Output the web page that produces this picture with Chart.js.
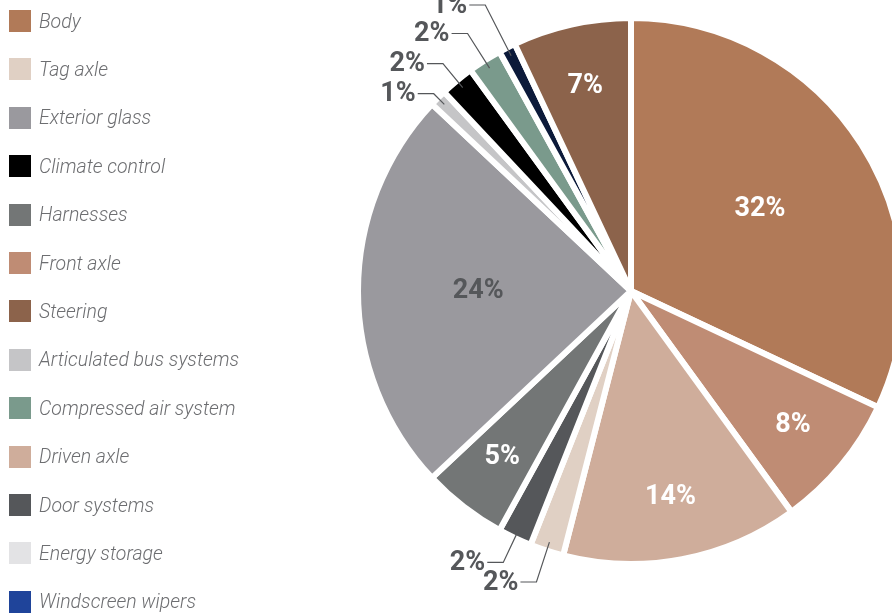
<!DOCTYPE html>
<html>
<head>
<meta charset="utf-8">
<script src="https://cdn.jsdelivr.net/npm/chart.js@4.4.1/dist/chart.umd.min.js"></script>
<style>
  html, body { margin: 0; padding: 0; background: #fff; overflow: hidden; }
  #wrap { position: relative; width: 892px; height: 614px; }
  #wrap canvas { position: absolute; left: 0; top: 0; }
  #legend {
    position: absolute; left: 0; top: 0; margin: 0; padding: 0; list-style: none;
    font: italic 300 19.5px Roboto, sans-serif; color: #6d6e71;
  }
  #legend li { position: absolute; left: 9px; height: 22px; display: flex; align-items: center; white-space: nowrap; }
  #legend .swatch { width: 22px; height: 22px; margin-right: 8px; flex: none; }
</style>
</head>
<body>
<div id="wrap">
  <canvas id="chart"></canvas>
  <ul id="legend"></ul>
</div>
<script>
// slices in drawing order, clockwise from 12 o'clock
const parts = ['Body', 'Front axle', 'Driven axle', 'Tag axle', 'Energy storage', 'Door systems',
  'Harnesses', 'Exterior glass', 'Articulated bus systems', 'Climate control',
  'Compressed air system', 'Windscreen wipers', 'Steering'];
const shares = [32, 8, 14, 2, 0, 2, 5, 24, 1, 2, 2, 1, 7];
const sliceColors = ['#b17a58', '#bf8c74', '#cfad9b', '#e0d0c4', '#e3e3e5', '#55575a',
  '#737676', '#9a999e', '#c5c5c7', '#000000', '#7a9a8c', '#0c1a3a', '#8c634b'];

// legend runs in its own order
const legendOrder = ['Body', 'Tag axle', 'Exterior glass', 'Climate control', 'Harnesses',
  'Front axle', 'Steering', 'Articulated bus systems', 'Compressed air system',
  'Driven axle', 'Door systems', 'Energy storage', 'Windscreen wipers'];
const legendSwatch = { 'Windscreen wipers': '#1f449a' };

// percentage labels: big slices inside, small ones outside on leader lines
const sliceLabels = {
  id: 'sliceLabels',
  afterDatasetsDraw(chart, args, opts) {
    const ctx = chart.ctx;
    const meta = chart.getDatasetMeta(0);
    const values = chart.data.datasets[0].data;
    ctx.save();
    ctx.font = opts.font;
    ctx.textBaseline = 'middle';
    meta.data.forEach((arc, i) => {
      const v = values[i];
      if (!v) return;
      const { x, y, startAngle, endAngle, outerRadius } =
        arc.getProps(['x', 'y', 'startAngle', 'endAngle', 'outerRadius'], true);
      const mid = (startAngle + endAngle) / 2;
      const cos = Math.cos(mid), sin = Math.sin(mid);
      const name = chart.data.labels[i];
      const text = v + '%';
      if (v >= opts.insideMin) {
        const r = outerRadius * (v >= 20 ? 0.56 : 0.77);
        ctx.fillStyle = opts.dark.includes(name) ? opts.darkColor : '#fff';
        ctx.textAlign = 'center';
        ctx.fillText(text, x + cos * r, y + sin * r);
      } else {
        const r0 = outerRadius - 9;
        const r1 = outerRadius + (opts.elbows[name] || 20);
        const ex = x + cos * r1, ey = y + sin * r1;
        ctx.strokeStyle = opts.darkColor;
        ctx.lineWidth = 1.2;
        ctx.beginPath();
        ctx.moveTo(x + cos * r0, y + sin * r0);
        ctx.lineTo(ex, ey);
        ctx.lineTo(ex - 16, ey);
        ctx.stroke();
        ctx.fillStyle = opts.darkColor;
        ctx.textAlign = 'right';
        ctx.fillText(text, ex - 18, ey + 1);
      }
    });
    ctx.restore();
  }
};

const chart = new Chart(document.getElementById('chart'), {
  type: 'pie',
  data: {
    labels: parts,
    datasets: [{
      data: shares,
      backgroundColor: sliceColors,
      borderColor: '#ffffff',
      borderWidth: 6,
      hoverOffset: 0,
      clip: false
    }]
  },
  options: {
    responsive: true,
    maintainAspectRatio: false,
    animation: false,
    radius: 273,
    layout: { padding: { left: 370, right: 0, top: 0, bottom: 32 } },
    plugins: {
      legend: { display: false },
      tooltip: { enabled: false },
      sliceLabels: {
        font: 'bold 27px Roboto, sans-serif',
        darkColor: '#55575a',
        insideMin: 5,
        dark: ['Exterior glass'],
        elbows: {
          'Door systems': 27, 'Tag axle': 33,
          'Articulated bus systems': 6, 'Climate control': 22,
          'Compressed air system': 32, 'Windscreen wipers': 48
        }
      }
    }
  },
  plugins: [sliceLabels]
});

// legend list built from the chart's own labels and colours
const list = document.getElementById('legend');
legendOrder.forEach((name, row) => {
  const idx = chart.data.labels.indexOf(name);
  const li = document.createElement('li');
  li.style.top = (10 + row * 48.4) + 'px';
  const sw = document.createElement('span');
  sw.className = 'swatch';
  sw.style.background = legendSwatch[name] || chart.data.datasets[0].backgroundColor[idx];
  li.appendChild(sw);
  li.appendChild(document.createTextNode(name));
  list.appendChild(li);
});
</script>
</body>
</html>
